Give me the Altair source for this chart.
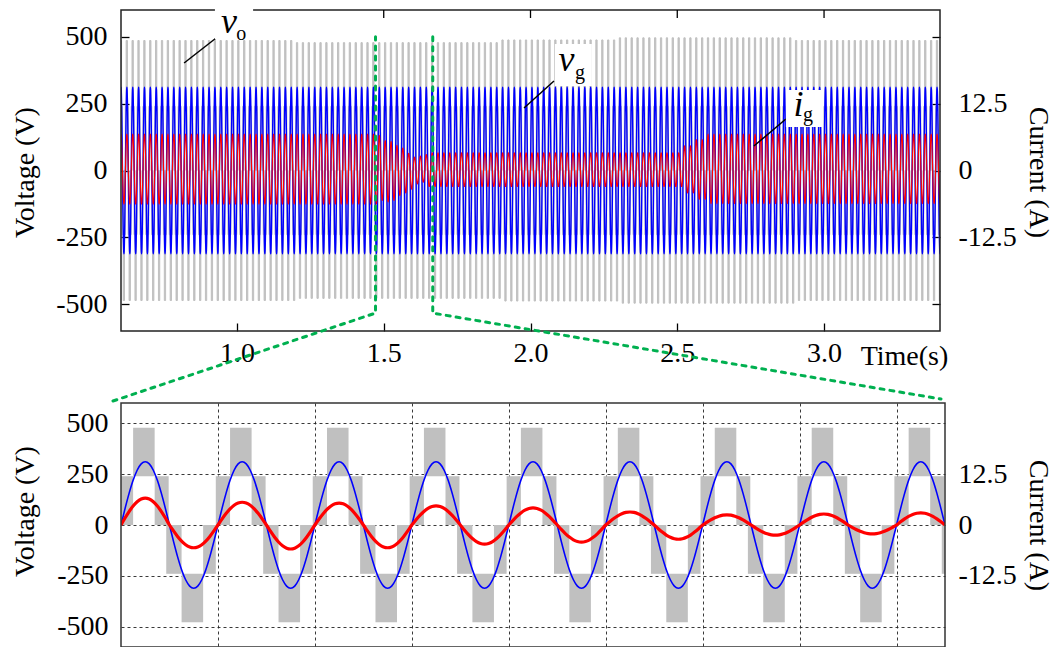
import altair as alt
import pandas as pd

FONT = "Liberation Serif, Times New Roman, serif"
FS = 28
GREY = "#c0c0c0"
BLUE = "#0000ff"
RED = "#ff0000"
GREEN = "#00b050"

# ---------------- values ----------------
GRID_FREQ_HZ = 50                     # one grid cycle per vertical grid division of the zoom
SAMPLES_PER_CYCLE = 24
TOP_RANGE = [0.605, 3.395]            # overview time axis (s)
ZOOM_RANGE = [1.48, 1.65]             # zoomed time window (s)
ZOOM_MARKS = [1.472, 1.667]           # green dashed markers in the overview (s)
V_DOMAIN = [-600, 600]
I_DOMAIN = [-30, 30]

VOLT_TICKS = [-500, -250, 0, 250, 500]
CURR_TICKS_TOP = [-25, -12.5, 0, 12.5, 25]
CURR_LABELS = [-12.5, 0, 12.5]
TIME_TICKS = [1.0, 1.5, 2.0, 2.5, 3.0]
ZOOM_GRID = [1.50, 1.52, 1.54, 1.56, 1.58, 1.60, 1.62, 1.64]

VG_PEAK = 311                          # grid voltage peak (V)
# per-unit shape of one grid cycle (24 samples)
UNIT_CYCLE = [0.000, 0.259, 0.500, 0.707, 0.866, 0.966, 1.000, 0.966, 0.866, 0.707, 0.500, 0.259,
              0.000, -0.259, -0.500, -0.707, -0.866, -0.966, -1.000, -0.966, -0.866, -0.707, -0.500, -0.259]

# grid current half-cycle peaks inside the zoom window (A), alternating + / -
IG_ZOOM_HALF_PEAKS = [6.6, -5.6, 5.6, -5.9, 5.4, -5.6, 4.7, -4.7, 4.2, -4.2,
                      3.2, -3.5, 2.5, -2.5, 2.7, -2.2, 3.0]
# grid current envelope in the overview outside the zoom (segment start, + peak, - peak), A
IG_SEG_START = [0.60, 1.65, 2.52, 2.56, 2.60]
IG_SEG_POS = [6.8, 3.3, 4.6, 5.8, 6.8]
IG_SEG_NEG = [-6.3, -3.0, -4.2, -5.4, -6.2]

# inverter output levels (V)
VO_INNER = 240
VO_SEG_START = [0.60, 1.20, 1.90, 2.30, 2.90]
VO_OUTER = [486, 478, 488, 496, 486]
# PWM windows inside one grid cycle (degrees) and the band they switch in
VO_WIN_START = [-8, 45, 125, 168, 225, 305]
VO_WIN_END = [45, 125, 177, 225, 305, 352]
VO_WIN_BAND = ["in+", "out+", "in+", "in-", "out-", "in-"]

# layout (pixels)
TOP_W, TOP_H = 819, 321
BOT_W, BOT_H = 824, 244
GAP = 72

# ---------------- build tables ----------------
PERIOD = 1.0 / GRID_FREQ_HZ


def seg_value(t, starts, values):
    val = values[0]
    for s, v in zip(starts, values):
        if t >= s - 1e-9:
            val = v
    return val


def ig_peak(h):
    t = h * PERIOD / 2
    z0 = round(ZOOM_RANGE[0] / (PERIOD / 2))
    z1 = round(ZOOM_RANGE[1] / (PERIOD / 2))
    if z0 <= h < z1:
        return IG_ZOOM_HALF_PEAKS[h - z0]
    if h % 2 == 0:
        return seg_value(t, IG_SEG_START, IG_SEG_POS)
    return seg_value(t, IG_SEG_START, IG_SEG_NEG)


def waveforms(t0, t1):
    n0 = round(t0 / PERIOD * SAMPLES_PER_CYCLE)
    n1 = round(t1 / PERIOD * SAMPLES_PER_CYCLE)
    half = SAMPLES_PER_CYCLE // 2
    rows = []
    for n in range(n0, n1 + 1):
        u = UNIT_CYCLE[n % SAMPLES_PER_CYCLE]
        rows.append({"t": n * PERIOD / SAMPLES_PER_CYCLE,
                     "vg": VG_PEAK * u,
                     "ig": abs(u) * ig_peak(n // half)})
    return pd.DataFrame(rows)


def vo_rects(t0, t1):
    rows = []
    for k in range(int(t0 // PERIOD) - 1, int(t1 // PERIOD) + 2):
        tk = k * PERIOD
        outer = seg_value(tk, VO_SEG_START, VO_OUTER)
        bands = {"in+": (0, VO_INNER), "out+": (VO_INNER, outer),
                 "in-": (-VO_INNER, 0), "out-": (-outer, -VO_INNER)}
        for a, b, band in zip(VO_WIN_START, VO_WIN_END, VO_WIN_BAND):
            xa = tk + a / 360 * PERIOD
            xb = tk + b / 360 * PERIOD
            if xb < t0 or xa > t1:
                continue
            lo, hi = bands[band]
            rows.append({"t0": xa, "t1": xb, "v0": lo, "v1": hi})
    return pd.DataFrame(rows)


wave_top = waveforms(0.60, 3.40)
rect_top = vo_rects(0.60, 3.40)
wave_bot = waveforms(ZOOM_RANGE[0], ZOOM_RANGE[1])
rect_bot = vo_rects(ZOOM_RANGE[0], ZOOM_RANGE[1])


def px_t(px):
    return TOP_RANGE[0] + px / TOP_W * (TOP_RANGE[1] - TOP_RANGE[0])


def py_v(py):
    return V_DOMAIN[1] - py / TOP_H * (V_DOMAIN[1] - V_DOMAIN[0])


# connector from the overview markers to the zoomed panel corners
conn = pd.DataFrame([
    {"t": px_t(-8), "v": py_v(TOP_H + GAP - 2), "seg": "a", "o": 0},
    {"t": ZOOM_MARKS[0], "v": -533, "seg": "a", "o": 1},
    {"t": ZOOM_MARKS[0], "v": 500, "seg": "a", "o": 2},
    {"t": ZOOM_MARKS[1], "v": 500, "seg": "b", "o": 0},
    {"t": ZOOM_MARKS[1], "v": -533, "seg": "b", "o": 1},
    {"t": px_t(TOP_W + 1), "v": py_v(TOP_H + GAP - 4), "seg": "b", "o": 2},
])

# annotations (label boxes, leaders, labels) in data coordinates
boxes = pd.DataFrame({"t0": [0.925, 2.083, 2.870], "t1": [1.055, 2.209, 2.996],
                      "v0": [491.6, 315.9, 162.6], "v1": [633.6, 472.9, 300.9]})
leaders = pd.DataFrame({"t0": [0.820, 1.978, 2.761], "t1": [0.929, 2.080, 2.870],
                        "v0": [401.9, 233.7, 91.6], "v1": [495.3, 334.6, 192.5]})
main_lbl = pd.DataFrame({"t": [0.973, 2.123, 2.913], "v": [514, 372, 204], "txt": ["v", "v", "i"]})
sub_lbl = pd.DataFrame({"t": [1.015, 2.169, 2.945], "v": [488, 342, 185], "txt": ["o", "g", "g"]})

# ---------------- axes ----------------
common = dict(labelFont=FONT, labelFontSize=FS, labelColor="black",
              titleFont=FONT, titleFontSize=FS, titleColor="black", titleFontWeight="normal")
volt_expr = "(datum.value < 0 ? '-' : '') + format(abs(datum.value), 'd')"
curr_expr = ("abs(datum.value) > 20 ? '' : datum.value == 0 ? '0' : "
             "(datum.value < 0 ? '-' : '') + format(abs(datum.value), '.1f')")

xs_top = alt.Scale(domain=TOP_RANGE, nice=False, zero=False)
vs = alt.Scale(domain=V_DOMAIN, nice=False, zero=False)
cs = alt.Scale(domain=I_DOMAIN, nice=False, zero=False)

xax_top = alt.Axis(values=TIME_TICKS, format=".1f", title="Time(s)", titleX=783, titleY=33,
                   titleBaseline="middle", titleAlign="center", domain=False, grid=False,
                   offset=-8, tickSize=8, tickColor="black", tickWidth=1.3,
                   labelPadding=8, labelFlush=False, **common)
vax_top = alt.Axis(values=VOLT_TICKS, labelExpr=volt_expr, title="Voltage (V)",
                   titleX=-104, titleY=162, titleAngle=270, titleBaseline="middle",
                   domain=False, grid=False, offset=-8, tickSize=8, tickColor="black",
                   tickWidth=1.3, labelPadding=14, **common)
cax_top = alt.Axis(orient="right", values=CURR_TICKS_TOP, labelExpr=curr_expr, title="Current (A)",
                   titleX=105, titleY=162, titleAngle=90, titleBaseline="middle",
                   domain=False, grid=False, offset=-8, tickSize=8, tickColor="black",
                   tickWidth=1.3, labelPadding=18, **common)

# ---------------- top panel ----------------
grey_t = alt.Chart(rect_top).mark_rect(color=GREY, stroke=GREY, strokeWidth=1.0, clip=True).encode(
    x=alt.X("t0:Q", scale=xs_top, axis=xax_top), x2="t1:Q",
    y=alt.Y("v0:Q", scale=vs, axis=vax_top), y2="v1:Q")
blue_t = alt.Chart(wave_top).mark_line(color=BLUE, strokeWidth=1.4, clip=True, interpolate="monotone").encode(
    x=alt.X("t:Q", scale=xs_top, axis=xax_top),
    y=alt.Y("vg:Q", scale=vs, axis=vax_top))
red_t = alt.Chart(wave_top).mark_line(color=RED, strokeWidth=1.1, clip=True, interpolate="monotone").encode(
    x=alt.X("t:Q", scale=xs_top, axis=xax_top),
    y=alt.Y("ig:Q", scale=cs, axis=cax_top))

frame_t = alt.Chart(pd.DataFrame({"a": [0]})).mark_rect(fillOpacity=0, stroke="#222", strokeWidth=1.5).encode(
    x=alt.value(0), x2=alt.value(TOP_W), y=alt.value(0), y2=alt.value(TOP_H))
topticks = alt.Chart(pd.DataFrame({"t": TIME_TICKS})).mark_rule(color="black", strokeWidth=1.3).encode(
    x=alt.X("t:Q", scale=xs_top, axis=xax_top), y=alt.value(0), y2=alt.value(8))
green = alt.Chart(conn).mark_line(color=GREEN, strokeWidth=3, strokeDash=[4, 6], strokeCap="round").encode(
    x=alt.X("t:Q", scale=xs_top, axis=xax_top), y=alt.Y("v:Q", scale=vs, axis=None),
    detail="seg:N", order="o:Q")
lead = alt.Chart(leaders).mark_rule(color="black", strokeWidth=1.5).encode(
    x=alt.X("t0:Q", scale=xs_top, axis=xax_top), x2="t1:Q",
    y=alt.Y("v0:Q", scale=vs, axis=None), y2="v1:Q")
box = alt.Chart(boxes).mark_rect(color="white").encode(
    x=alt.X("t0:Q", scale=xs_top, axis=xax_top), x2="t1:Q",
    y=alt.Y("v0:Q", scale=vs, axis=None), y2="v1:Q")
txt_main = alt.Chart(main_lbl).mark_text(font=FONT, fontStyle="italic", fontSize=36, color="black",
                                         align="center", baseline="alphabetic").encode(
    x=alt.X("t:Q", scale=xs_top, axis=xax_top), y=alt.Y("v:Q", scale=vs, axis=None), text="txt:N")
txt_sub = alt.Chart(sub_lbl).mark_text(font=FONT, fontSize=20, color="black",
                                       align="center", baseline="alphabetic").encode(
    x=alt.X("t:Q", scale=xs_top, axis=xax_top), y=alt.Y("v:Q", scale=vs, axis=None), text="txt:N")

overlay_t = alt.layer(frame_t, topticks, green, lead, box, txt_main, txt_sub)
top = alt.layer(alt.layer(grey_t, blue_t), red_t, overlay_t).resolve_scale(y="independent").properties(
    width=TOP_W, height=TOP_H)

# ---------------- bottom panel ----------------
xs_bot = alt.Scale(domain=ZOOM_RANGE, nice=False, zero=False)
grid_style = dict(grid=True, gridDash=[3, 3], gridColor="#222", gridWidth=0.9)
xax_bot = alt.Axis(values=ZOOM_GRID, labels=False, ticks=False, tickSize=0, domain=False, title="",
                   **grid_style)
vax_bot = alt.Axis(values=VOLT_TICKS, labelExpr=volt_expr, title="Voltage (V)",
                   titleX=-96, titleY=108, titleAngle=270, titleBaseline="middle",
                   ticks=False, tickSize=0, domain=False, labelPadding=13, **grid_style, **common)
cax_bot = alt.Axis(orient="right", values=CURR_LABELS, labelExpr=curr_expr, title="Current (A)",
                   titleX=92, titleY=122, titleAngle=90, titleBaseline="middle",
                   grid=False, ticks=False, tickSize=0, domain=False, labelPadding=13, **common)

grey_b = alt.Chart(rect_bot).mark_rect(color=GREY, clip=True).encode(
    x=alt.X("t0:Q", scale=xs_bot, axis=xax_bot), x2="t1:Q",
    y=alt.Y("v0:Q", scale=vs, axis=vax_bot), y2="v1:Q")
blue_b = alt.Chart(wave_bot).mark_line(color=BLUE, strokeWidth=1.6, clip=True, interpolate="monotone").encode(
    x=alt.X("t:Q", scale=xs_bot, axis=xax_bot),
    y=alt.Y("vg:Q", scale=vs, axis=vax_bot))
red_b = alt.Chart(wave_bot).mark_line(color=RED, strokeWidth=3.2, clip=True, interpolate="monotone").encode(
    x=alt.X("t:Q", scale=xs_bot, axis=xax_bot),
    y=alt.Y("ig:Q", scale=cs, axis=cax_bot))
frame_b = alt.Chart(pd.DataFrame({"a": [0]})).mark_rect(fillOpacity=0, stroke="#333", strokeWidth=1.5).encode(
    x=alt.value(0), x2=alt.value(BOT_W), y=alt.value(0), y2=alt.value(BOT_H))

bottom = alt.layer(alt.layer(grey_b, blue_b), red_b, frame_b).resolve_scale(y="independent").properties(
    width=BOT_W, height=BOT_H)

chart = alt.vconcat(top, bottom, spacing=GAP, bounds="flush").properties(
    padding={"left": 10, "top": 0, "right": 2, "bottom": 0},
    background="white",
).configure_view(stroke="transparent")

chart.save("out.html", embed_options={"renderer": "svg", "actions": False})
